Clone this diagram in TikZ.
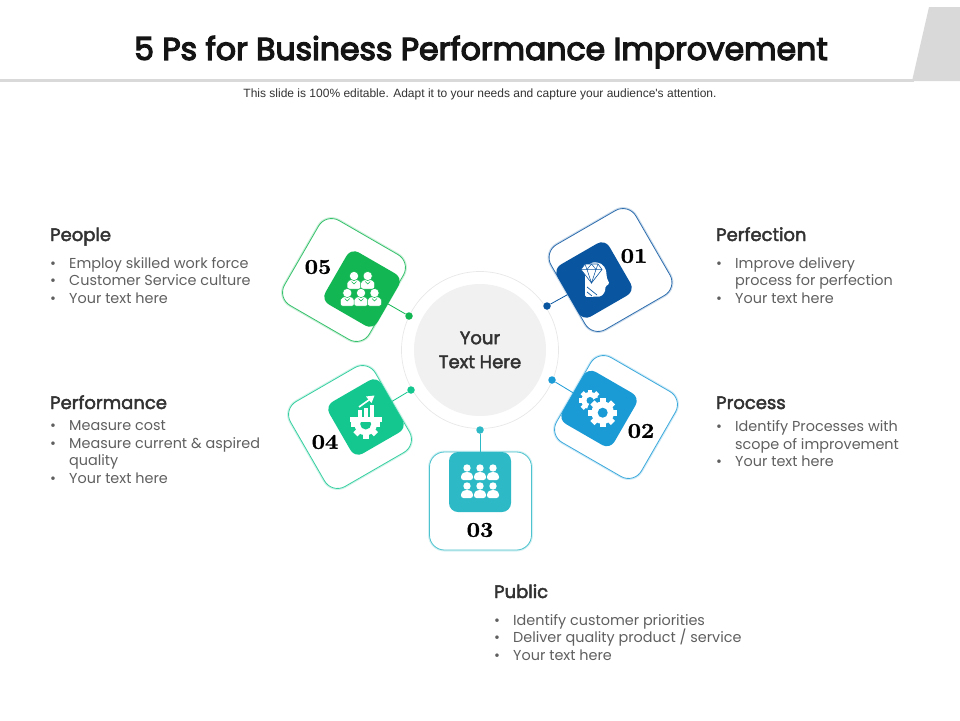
\documentclass[tikz,border=0pt]{standalone}
\usepackage{fontspec}
\usepackage{xcolor}
\usepackage{tikz}
\usetikzlibrary{positioning, calc}
\setmainfont{Poppins}
\newfontfamily\titlefont[FakeBold=4]{Poppins}
\newfontfamily\headfont[FakeBold=2.5]{Poppins}
\newfontfamily\subfont{Liberation Sans}
\newfontfamily\numfont[FakeBold=1.5, FakeStretch=1.12]{Latin Modern Roman}
\definecolor{headgray}{RGB}{217, 217, 217}
\definecolor{ringgray}{RGB}{232, 232, 232}
\definecolor{hubgray}{RGB}{241, 241, 241}
\definecolor{titleblack}{RGB}{20, 20, 20}
\definecolor{headtext}{RGB}{50, 50, 50}
\definecolor{bodytext}{RGB}{95, 95, 95}
\definecolor{perfblue}{RGB}{10, 85, 160}
\definecolor{procblue}{RGB}{27, 155, 214}
\definecolor{pubteal}{RGB}{45, 185, 197}
\definecolor{perfgreen}{RGB}{20, 199, 143}
\definecolor{peoplegreen}{RGB}{18, 182, 82}
\tikzset{
    cardbox/.style={draw=#1!85, line width=0.8pt, fill=white, minimum size=98pt, rounded corners=15pt, inner sep=0pt,
        preaction={draw=#1!20, line width=3pt}},
    tilebox/.style={fill=#1, minimum size=60pt, rounded corners=9pt, inner sep=0pt},
    dotnode/.style={fill=#1, circle, minimum size=7.5pt, inner sep=0pt},
    linkline/.style={draw=#1, line width=0.8pt},
    numlabel/.style={font=\numfont\bfseries\fontsize{21}{21}\selectfont, text=black, inner sep=0pt},
    headlabel/.style={font=\headfont\fontsize{18}{20}\selectfont, text=headtext, anchor=base west, inner sep=0pt},
    listlabel/.style={font=\fontsize{14.4}{17.5}\selectfont, text=bodytext, align=left, anchor=north west, inner sep=0pt}
}
\newcommand{\bul}{\makebox[19pt][l]{\textbullet}}
\newcommand{\ind}{\hspace*{19pt}}
% one gear, hole in the colour of its tile
\newcommand{\geardraw}[5]{
    \foreach \a in {0,45,135,90} {
        \fill[white, shift={(#1,#2)}, rotate=\a] (-#3*0.2,-#3) rectangle (#3*0.2,#3);
    }
    \fill[white] (#1,#2) circle ({#3*0.78});
    \fill[#5] (#1,#2) circle (#4);
}
\newcommand{\personbust}[2]{
    \fill[white, draw=peoplegreen, line width=0.5pt, rounded corners=2pt] (#1-7,#2+9) -- (#1-7,#2+1) -- (#1,#2-1) -- (#1+7,#2+1) -- (#1+7,#2+9) -- cycle;
    \fill[white, draw=peoplegreen, line width=0.5pt] (#1,#2-4) circle (4.6);
    \draw[peoplegreen, line width=0.5pt] (#1-2.5,#2+1.5) -- (#1,#2+4) -- (#1+2.5,#2+1.5);
}
\newcommand{\crowdbust}[2]{
    \fill[white] (#1,#2-5) circle (3.7);
    \fill[white, rounded corners=2.5pt] (#1-6,#2+7) -- (#1-6,#2+1.5) -- (#1-2.5,#2-1) -- (#1+2.5,#2-1) -- (#1+6,#2+1.5) -- (#1+6,#2+7) -- cycle;
}
\begin{document}
\begin{tikzpicture}[x=1pt, y=-1pt]
    \useasboundingbox (0,0) rectangle (960,720);
    % header
    \fill[headgray] (0,79) rectangle (914,82);
    \fill[headgray] (929,7) -- (960,7) -- (960,81) -- (912,81) -- cycle;
    \node[font=\titlefont\fontsize{31.5}{34}\selectfont, text=titleblack, inner sep=0pt] (titleText) at (481,52) {5 Ps for Business Performance Improvement};
    \node[font=\subfont\fontsize{12}{14}\selectfont, text=black!80, inner sep=0pt] (subText) at (480,94.5) {This slide is 100\% editable. Adapt it to your needs and capture your audience's attention.};

    % hub
    \node[circle, draw=ringgray, line width=0.7pt, fill=white, minimum size=157pt, inner sep=0pt] (hubRing) at (480,350) {};
    \node[circle, fill=hubgray, minimum size=132pt, inner sep=0pt] (hubDisc) at (480,350) {};
    \node[font=\headfont\fontsize{18}{24}\selectfont, text=headtext, align=center, inner sep=0pt] (hubText) at (480,350) {Your\\Text Here};

    % cards
    \node[cardbox=perfblue, rotate=30] (cardPerfection) at (610.5,270) {};
    \node[cardbox=procblue, rotate=-30] (cardProcess) at (616,417) {};
    \node[cardbox=pubteal, minimum width=102pt] (cardPublic) at (480.5,501) {};
    \node[cardbox=perfgreen, rotate=30] (cardPerformance) at (350,427) {};
    \node[cardbox=peoplegreen, rotate=-30] (cardPeople) at (344,280) {};

    % tiles
    \node[tilebox=perfblue, rotate=30] (tilePerfection) at (594,280) {};
    \node[tilebox=procblue, rotate=-30] (tileProcess) at (599,408.5) {};
    \node[tilebox=pubteal, minimum width=62pt] (tilePublic) at (480,482) {};
    \node[tilebox=perfgreen, rotate=30] (tilePerformance) at (366,417) {};
    \node[tilebox=peoplegreen, rotate=-30] (tilePeople) at (362,289) {};

    % dots and links
    \node[dotnode=perfblue] (dotPerfection) at (547,306) {};
    \node[dotnode=procblue] (dotProcess) at (552,380) {};
    \node[dotnode=pubteal] (dotPublic) at (480,430) {};
    \node[dotnode=perfgreen] (dotPerformance) at (411,390) {};
    \node[dotnode=peoplegreen] (dotPeople) at (409,316) {};
    \draw[linkline=perfblue] (dotPerfection) -- (tilePerfection);
    \draw[linkline=procblue] (dotProcess) -- (tileProcess);
    \draw[linkline=pubteal] (dotPublic) -- (tilePublic);
    \draw[linkline=perfgreen] (dotPerformance) -- (tilePerformance);
    \draw[linkline=peoplegreen] (dotPeople) -- (tilePeople);

    % numbers
    \node[numlabel] (numPerfection) at (634,256) {01};
    \node[numlabel] (numProcess) at (641,431) {02};
    \node[numlabel] (numPublic) at (480,530) {03};
    \node[numlabel] (numPerformance) at (325,442) {04};
    \node[numlabel] (numPeople) at (318,267) {05};

    % icon 01
    \fill[white, rounded corners=1.5pt] (585,297) -- (585,272) .. controls (586,265) and (592,262) .. (596,262.5) .. controls (603,263) and (607,269) .. (606.5,277) -- (609.5,284) -- (605.5,286) -- (605,292) -- (601,296.5) -- cycle;
    \fill[white, draw=perfblue, line width=0.6pt] (581,269.5) -- (585,264) -- (598,264) -- (602,269.5) -- (591.5,283) -- cycle;
    \draw[perfblue, line width=0.5pt] (581,269.5) -- (602,269.5) (585,264) -- (587,269.5) -- (591.5,283) -- (596,269.5) -- (598,264) (587,269.5) -- (591.5,264) -- (596,269.5);
    \draw[perfblue, line width=0.7pt] (587,287) -- (597,295) (587,292) -- (592,296);

    % icon 02
    \geardraw{590}{400.5}{11}{3.5}{procblue}
    \fill[procblue] (602.7,412.7) circle (16);
    \geardraw{602.7}{412.7}{14.5}{5}{procblue}

    % icon 03
    \foreach \cx in {467,480,493} {
        \crowdbust{\cx}{473}
        \crowdbust{\cx}{491}
    }

    % icon 04
    \begin{scope}
        \clip (348,421) rectangle (384,440);
        \geardraw{365.7}{424}{14.5}{5.5}{perfgreen}
    \end{scope}
    \fill[white] (350,416.5) rectangle (382,421.5);
    \fill[white] (357.5,410) rectangle (361.5,416.5);
    \fill[white] (363.5,408) rectangle (367.5,416.5);
    \fill[white] (370,405) rectangle (374,416.5);
    \draw[white, line width=1.6pt] (359,407) -- (371,398.5);
    \fill[white] (374.5,395.5) -- (366,396.5) -- (371.5,403) -- cycle;

    % icon 05
    \personbust{354}{280}
    \personbust{367.7}{280}
    \personbust{347.3}{297}
    \personbust{361}{297}
    \personbust{374.5}{297}

    % text blocks
    \node[headlabel] (headPeople) at (50,241) {People};
    \node[listlabel] (listPeople) at (50,257) {\bul Employ skilled work force\\\bul Customer Service culture\\\bul Your text here};
    \node[headlabel] (headPerformance) at (50,409) {Performance};
    \node[listlabel] (listPerformance) at (50,420.5) {\bul Measure cost\\\bul Measure current \& aspired\\\ind quality\\\bul Your text here};
    \node[headlabel] (headPerfection) at (716,241) {Perfection};
    \node[listlabel] (listPerfection) at (716,257) {\bul Improve delivery\\\ind process for perfection\\\bul Your text here};
    \node[headlabel] (headProcess) at (716,409) {Process};
    \node[listlabel] (listProcess) at (716,420.5) {\bul Identify Processes with\\\ind scope of improvement\\\bul Your text here};
    \node[headlabel] (headPublic) at (494,598) {Public};
    \node[listlabel] (listPublic) at (494,614) {\bul Identify customer priorities\\\bul Deliver quality product / service\\\bul Your text here};
\end{tikzpicture}
\end{document}
